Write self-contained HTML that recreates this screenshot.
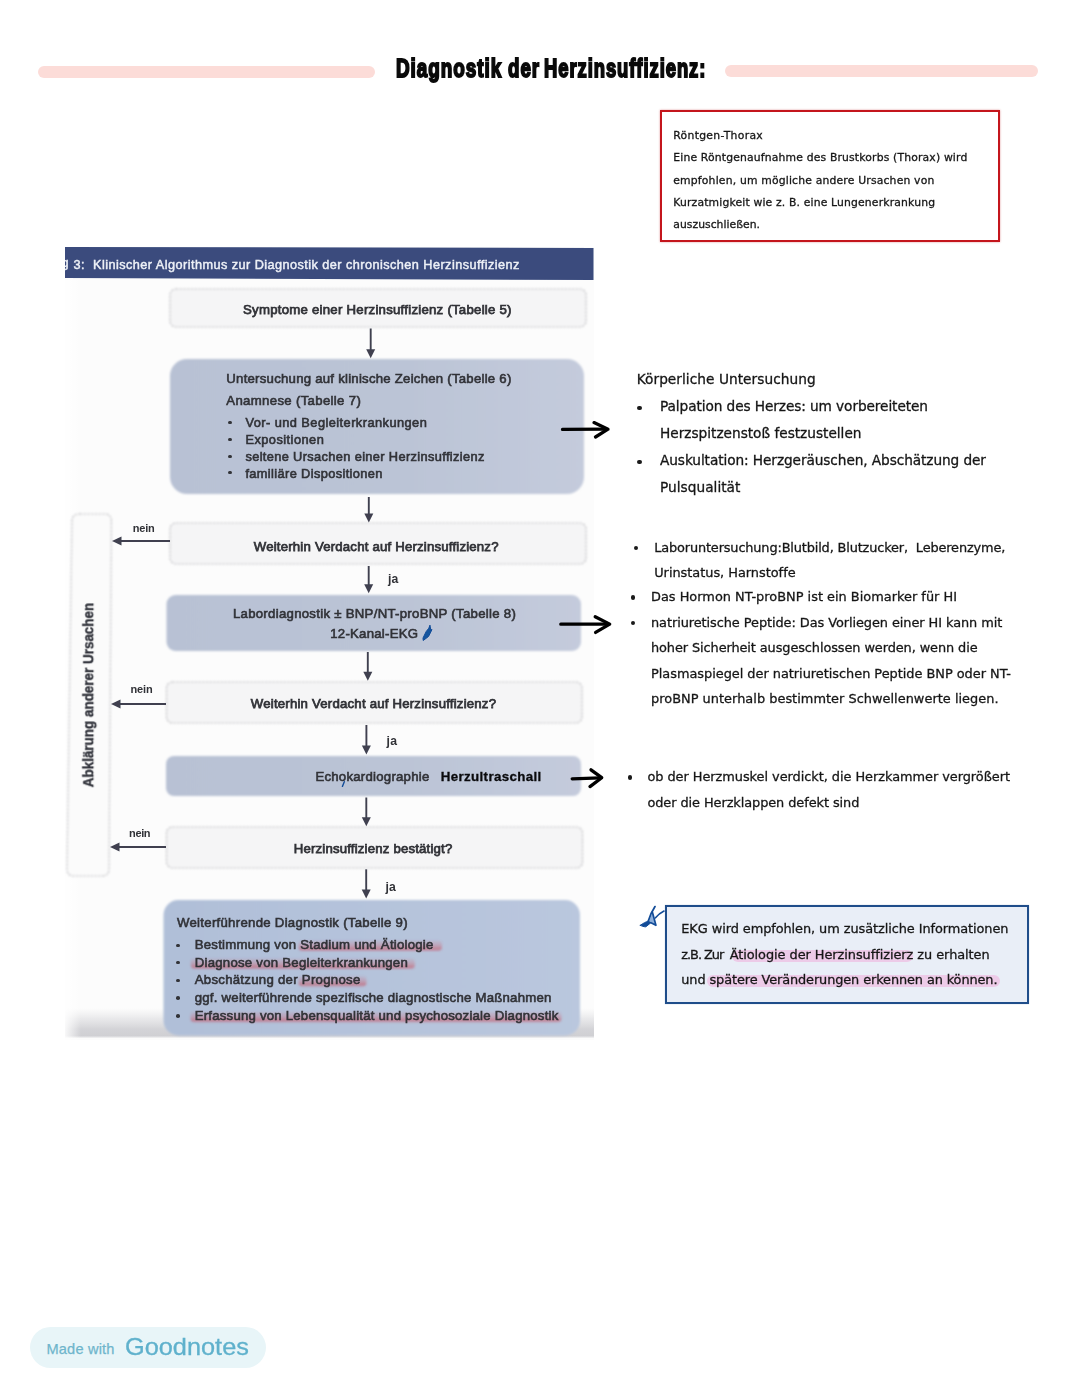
<!DOCTYPE html>
<html lang="de">
<head>
<meta charset="utf-8">
<title>Diagnostik der Herzinsuffizienz</title>
<style>
html,body{margin:0;padding:0;background:#fff;}
body{width:1080px;height:1397px;position:relative;overflow:hidden;font-family:"Liberation Sans",sans-serif;}
h1,figure,header,section{margin:0;padding:0;font:inherit;}
.t{position:absolute;white-space:pre;display:block;}
.abs{position:absolute;}
.bar{position:absolute;background:#fcdcd8;border-radius:6px;}
#redbox{position:absolute;left:660px;top:110px;width:336px;height:128px;border:2px solid #c4151c;background:#fff;box-shadow:0 0 2px rgba(190,30,40,.45);}
#bluebox{position:absolute;left:665px;top:904.7px;width:360.4px;height:95px;border:2px solid #1f4d8a;background:#e9eef7;box-shadow:0 0 1px rgba(30,80,150,.35);}
.hl{position:absolute;background:#edcbe8;border-radius:6px;filter:blur(.7px);}
.bul{position:absolute;width:4.6px;height:4.6px;border-radius:50%;background:#1a1a1a;}
.sb{width:3.4px;height:3.4px;background:#323338;filter:blur(.4px);}
#scan{position:absolute;left:0;top:0;}
#badge{position:absolute;left:29.5px;top:1326.6px;width:236.5px;height:41.8px;border-radius:21px;background:#e8f5f8;}
#vert{position:absolute;left:0;top:0;font:700 13px/13px "Liberation Sans",sans-serif;color:#33353d;white-space:nowrap;transform-origin:0 0;filter:blur(.4px);-webkit-text-stroke:.35px #33353d;}
</style>
</head>
<body>
<header>
<div class="bar" style="left:38.300px;top:66.100px;width:337.200px;height:11.500px"></div>
<h1 id="title"><span id="t0" class="t" style='left:395.6px;top:56.0px;font:700 25.5px/25.5px "Liberation Sans", sans-serif;color:#0a0a0a;-webkit-text-stroke:1.9px #0a0a0a;letter-spacing:1.3px;transform-origin:0 50%;transform:scaleX(0.7408);'>Diagnostik</span> <span id="t1" class="t" style='left:508.2px;top:56.0px;font:700 25.5px/25.5px "Liberation Sans", sans-serif;color:#0a0a0a;-webkit-text-stroke:1.9px #0a0a0a;letter-spacing:1.3px;transform-origin:0 50%;transform:scaleX(0.7341);'>der</span> <span id="t2" class="t" style='left:544.0px;top:56.0px;font:700 25.5px/25.5px "Liberation Sans", sans-serif;color:#0a0a0a;-webkit-text-stroke:1.9px #0a0a0a;letter-spacing:1.3px;transform-origin:0 50%;transform:scaleX(0.7223);'>Herzinsuffizienz:</span></h1>
<div class="bar" style="left:724.500px;top:64.800px;width:313.300px;height:11.900px"></div>
</header>

<aside id="redbox">
<span id="t3" class="t" style='left:11.3px;top:19.0px;font:400 10.8px/10.8px "DejaVu Sans", "Liberation Sans", sans-serif;color:#161616;letter-spacing:0.305px;filter:blur(.2px);-webkit-text-stroke:.3px #161616;'>Röntgen-Thorax</span>
<span id="t4" class="t" style='left:11.3px;top:41.0px;font:400 10.8px/10.8px "DejaVu Sans", "Liberation Sans", sans-serif;color:#161616;letter-spacing:0.164px;filter:blur(.2px);-webkit-text-stroke:.3px #161616;'>Eine Röntgenaufnahme des Brustkorbs (Thorax) wird</span>
<span id="t5" class="t" style='left:11.3px;top:64.0px;font:400 10.8px/10.8px "DejaVu Sans", "Liberation Sans", sans-serif;color:#161616;letter-spacing:0.181px;filter:blur(.2px);-webkit-text-stroke:.3px #161616;'>empfohlen, um mögliche andere Ursachen von</span>
<span id="t6" class="t" style='left:11.3px;top:86.0px;font:400 10.8px/10.8px "DejaVu Sans", "Liberation Sans", sans-serif;color:#161616;letter-spacing:0.159px;filter:blur(.2px);-webkit-text-stroke:.3px #161616;'>Kurzatmigkeit wie z. B. eine Lungenerkrankung</span>
<span id="t7" class="t" style='left:11.3px;top:108.0px;font:400 10.8px/10.8px "DejaVu Sans", "Liberation Sans", sans-serif;color:#161616;letter-spacing:0.024px;filter:blur(.2px);-webkit-text-stroke:.3px #161616;'>auszuschließen.</span>
</aside>

<figure id="flow">
<svg id="scan" width="1080" height="1397" viewBox="0 0 1080 1397">
  <defs>
    <filter id="soft" x="-5%" y="-5%" width="110%" height="110%"><feGaussianBlur stdDeviation="0.9"/></filter>
    <filter id="soft2" x="-5%" y="-5%" width="110%" height="110%"><feGaussianBlur stdDeviation="0.6"/></filter>
    <linearGradient id="botshade" x1="0" y1="0" x2="0" y2="1">
      <stop offset="0" stop-color="#e4e4e6" stop-opacity="0"/>
      <stop offset="0.35" stop-color="#dcdcdf" stop-opacity=".6"/>
      <stop offset="0.7" stop-color="#cfcfd3" stop-opacity=".9"/>
      <stop offset="0.93" stop-color="#cdcdd1" stop-opacity=".95"/>
      <stop offset="1" stop-color="#e8e8ea" stop-opacity=".5"/>
    </linearGradient>
    <linearGradient id="boxg" x1="0" y1="0" x2="1" y2="0">
      <stop offset="0" stop-color="#b8c1d4"/>
      <stop offset="0.55" stop-color="#bbc4d6"/>
      <stop offset="1" stop-color="#c4cbdc"/>
    </linearGradient>
    <linearGradient id="boxg2" x1="0" y1="0" x2="1" y2="0">
      <stop offset="0" stop-color="#b0bfd8"/>
      <stop offset="1" stop-color="#bac7de"/>
    </linearGradient>
    <linearGradient id="redhl" x1="0" y1="0" x2="0" y2="1">
      <stop offset="0" stop-color="#cf5565" stop-opacity=".08"/>
      <stop offset="0.5" stop-color="#cf5565" stop-opacity=".3"/>
      <stop offset="0.8" stop-color="#c94c5d" stop-opacity=".55"/>
      <stop offset="1" stop-color="#c94c5d" stop-opacity=".35"/>
    </linearGradient>
    <linearGradient id="leftfade" x1="0" y1="0" x2="1" y2="0">
      <stop offset="0" stop-color="#fff" stop-opacity="1"/>
      <stop offset="1" stop-color="#fff" stop-opacity="0"/>
    </linearGradient>
  </defs>
  <!-- scanned paper -->
  <rect x="65" y="247" width="529" height="793" fill="#fcfcfc"/>
  <rect x="65" y="1008" width="529" height="30" fill="url(#botshade)"/>
  <rect x="65" y="280" width="16" height="761" fill="url(#leftfade)" fill-opacity=".85"/>
  <!-- header band -->
  <g filter="url(#soft2)">
    <polygon points="65,247 593.5,248 593.5,280 65,278" fill="#3a4b7d"/>
  </g>
  <!-- boxes -->
  <g filter="url(#soft)">
    <g fill="#f5f5f6" stroke="#c0c0c4" stroke-width="1.2" stroke-dasharray="2.5 1.2">
      <rect x="170" y="289" width="416" height="38" rx="6"/>
      <rect x="170" y="523" width="416" height="41" rx="6"/>
      <rect x="166.5" y="682" width="415.5" height="41" rx="6"/>
      <rect x="166.5" y="827" width="416" height="41" rx="6"/>
      <path d="M80,514 H104 Q111.500,514 111.400,521 L109,869 Q109,876 102,876 H74 Q67,876 67,869 L72,521 Q72,514 80,514 Z" fill="#fbfbfb"/>
    </g>
    <g fill="url(#boxg)">
      <rect x="170" y="359" width="414" height="135" rx="17"/>
      <rect x="166.500" y="595" width="414.500" height="56" rx="9"/>
      <rect x="166" y="756" width="415" height="40" rx="8"/>
      <rect x="163.500" y="900" width="416.500" height="135.500" rx="15" fill="url(#boxg2)"/>
    </g>
  </g>
  <!-- flow arrows -->
  <g filter="url(#soft2)" stroke="#3f4150" stroke-width="1.9" fill="#3f4150">
    <path d="M370.700,328.500 V351" fill="none"/><path d="M366.200,349.300 L375.200,349.300 L370.700,358.300 Z" stroke="none"/>
    <path d="M368.800,497 V515" fill="none"/><path d="M364.300,513.500 L373.300,513.500 L368.800,522.500 Z" stroke="none"/>
    <path d="M368.700,566 V586" fill="none"/><path d="M364.200,584.300 L373.200,584.300 L368.700,593.300 Z" stroke="none"/>
    <path d="M367.800,652 V673.500" fill="none"/><path d="M363.300,671.800 L372.300,671.800 L367.800,680.800 Z" stroke="none"/>
    <path d="M366.400,725 V747" fill="none"/><path d="M361.900,745.500 L370.900,745.500 L366.400,754.500 Z" stroke="none"/>
    <path d="M366.300,797.500 V819" fill="none"/><path d="M361.800,817.300 L370.800,817.300 L366.300,826.300 Z" stroke="none"/>
    <path d="M366.200,869.300 V891" fill="none"/><path d="M361.700,889.600 L370.700,889.600 L366.200,898.600 Z" stroke="none"/>
    <path d="M170,541 H120" fill="none"/><path d="M121.500,536.500 L121.500,545.500 L112,541 Z" stroke="none"/>
    <path d="M166,704 H119" fill="none"/><path d="M120.500,699.500 L120.500,708.500 L111,704 Z" stroke="none"/>
    <path d="M166,847 H118" fill="none"/><path d="M119.500,842.500 L119.500,851.500 L110,847 Z" stroke="none"/>
  </g>
  <!-- red marker highlights in scan -->
  <g filter="url(#soft)" fill="url(#redhl)">
    <rect x="298.5" y="940.5" width="143.5" height="10.500" rx="4"/>
    <rect x="190.8" y="958.5" width="224" height="10.500" rx="4"/>
    <rect x="298.5" y="976" width="68" height="10.500" rx="4"/>
    <rect x="190.5" y="1011.8" width="371" height="10.500" rx="4"/>
  </g>
</svg>
<div class="abs" style="left:65px;top:255px;width:3.8px;height:20px;overflow:hidden;filter:blur(.4px)"><span class="abs" style="left:-3.4px;top:1.5px;font:400 12.7px/13px 'Liberation Sans',sans-serif;color:#eef1f7;-webkit-text-stroke:.45px #eef1f7">g</span></div>
<div id="vert" style="transform:translate(80.3px,787.3px) rotate(-90deg) scale(1.0339,1.18)">Abklärung anderer Ursachen</div>
<span id="t28" class="t" style='left:73.6px;top:259.0px;font:400 12.7px/12.7px "Liberation Sans", sans-serif;color:#eef1f7;letter-spacing:0.449px;filter:blur(.45px);-webkit-text-stroke:.45px #eef1f7;'>3:  Klinischer Algorithmus zur Diagnostik der chronischen Herzinsuffizienz</span>
<span id="t29" class="t" style='left:243.0px;top:303.0px;font:400 13.2px/13.2px "Liberation Sans", sans-serif;color:#313237;letter-spacing:0.256px;filter:blur(.45px);-webkit-text-stroke:.75px #313237;'>Symptome einer Herzinsuffizienz (Tabelle 5)</span>
<span id="t30" class="t" style='left:226.3px;top:372.0px;font:400 13.2px/13.2px "Liberation Sans", sans-serif;color:#313237;letter-spacing:0.241px;filter:blur(.45px);-webkit-text-stroke:.6px #313237;'>Untersuchung auf klinische Zeichen (Tabelle 6)</span>
<span id="t31" class="t" style='left:226.3px;top:394.0px;font:400 13.2px/13.2px "Liberation Sans", sans-serif;color:#313237;letter-spacing:0.327px;filter:blur(.45px);-webkit-text-stroke:.6px #313237;'>Anamnese (Tabelle 7)</span>
<span id="t32" class="t" style='left:245.4px;top:417.0px;font:400 12.8px/12.8px "Liberation Sans", sans-serif;color:#313237;letter-spacing:0.447px;filter:blur(.45px);-webkit-text-stroke:.6px #313237;'>Vor- und Begleiterkrankungen</span>
<span id="t33" class="t" style='left:245.4px;top:434.0px;font:400 12.8px/12.8px "Liberation Sans", sans-serif;color:#313237;letter-spacing:0.465px;filter:blur(.45px);-webkit-text-stroke:.6px #313237;'>Expositionen</span>
<span id="t34" class="t" style='left:245.4px;top:451.0px;font:400 12.8px/12.8px "Liberation Sans", sans-serif;color:#313237;letter-spacing:0.362px;filter:blur(.45px);-webkit-text-stroke:.6px #313237;'>seltene Ursachen einer Herzinsuffizienz</span>
<span id="t35" class="t" style='left:245.4px;top:468.0px;font:400 12.8px/12.8px "Liberation Sans", sans-serif;color:#313237;letter-spacing:0.375px;filter:blur(.45px);-webkit-text-stroke:.6px #313237;'>familiäre Dispositionen</span>
<span id="t36" class="t" style='left:253.8px;top:540.0px;font:400 13.2px/13.2px "Liberation Sans", sans-serif;color:#313237;letter-spacing:0.197px;filter:blur(.45px);-webkit-text-stroke:.75px #313237;'>Weiterhin Verdacht auf Herzinsuffizienz?</span>
<span id="t37" class="t" style='left:132.8px;top:523.0px;font:700 11px/11px "Liberation Sans", sans-serif;color:#313237;letter-spacing:-0.242px;filter:blur(.45px);'>nein</span>
<span id="t38" class="t" style='left:388.0px;top:573.0px;font:700 12.2px/12.2px "Liberation Sans", sans-serif;color:#313237;letter-spacing:0.228px;filter:blur(.45px);'>ja</span>
<span id="t39" class="t" style='left:232.9px;top:607.0px;font:400 13.2px/13.2px "Liberation Sans", sans-serif;color:#313237;letter-spacing:0.286px;filter:blur(.45px);-webkit-text-stroke:.6px #313237;'>Labordiagnostik ± BNP/NT-proBNP (Tabelle 8)</span>
<span id="t40" class="t" style='left:330.3px;top:627.0px;font:400 13.2px/13.2px "Liberation Sans", sans-serif;color:#313237;letter-spacing:0.243px;filter:blur(.45px);-webkit-text-stroke:.6px #313237;'>12-Kanal-EKG</span>
<span id="t41" class="t" style='left:250.8px;top:697.0px;font:400 13.2px/13.2px "Liberation Sans", sans-serif;color:#313237;letter-spacing:0.210px;filter:blur(.45px);-webkit-text-stroke:.75px #313237;'>Weiterhin Verdacht auf Herzinsuffizienz?</span>
<span id="t42" class="t" style='left:130.5px;top:684.0px;font:700 11px/11px "Liberation Sans", sans-serif;color:#313237;letter-spacing:-0.108px;filter:blur(.45px);'>nein</span>
<span id="t43" class="t" style='left:386.4px;top:735.0px;font:700 12.2px/12.2px "Liberation Sans", sans-serif;color:#313237;letter-spacing:0.428px;filter:blur(.45px);'>ja</span>
<span id="t44" class="t" style='left:315.4px;top:770.0px;font:400 13.2px/13.2px "Liberation Sans", sans-serif;color:#313237;letter-spacing:0.245px;filter:blur(.45px);-webkit-text-stroke:.6px #313237;'>Echokardiographie</span>
<span id="t45" class="t" style='left:440.7px;top:770.0px;font:700 13.3px/13.3px "Liberation Sans", sans-serif;color:#0a0a0c;letter-spacing:0.375px;filter:blur(.25px);-webkit-text-stroke:.3px #0a0a0c;'>Herzultraschall</span>
<span id="t46" class="t" style='left:129.0px;top:828.0px;font:700 11px/11px "Liberation Sans", sans-serif;color:#313237;letter-spacing:-0.342px;filter:blur(.45px);'>nein</span>
<span id="t47" class="t" style='left:293.7px;top:842.0px;font:400 13.2px/13.2px "Liberation Sans", sans-serif;color:#313237;letter-spacing:0.188px;filter:blur(.45px);-webkit-text-stroke:.75px #313237;'>Herzinsuffizienz bestätigt?</span>
<span id="t48" class="t" style='left:385.6px;top:881.0px;font:700 12.2px/12.2px "Liberation Sans", sans-serif;color:#313237;letter-spacing:0.128px;filter:blur(.45px);'>ja</span>
<span id="t49" class="t" style='left:177.0px;top:916.0px;font:400 13.2px/13.2px "Liberation Sans", sans-serif;color:#313237;letter-spacing:0.283px;filter:blur(.45px);-webkit-text-stroke:.6px #313237;'>Weiterführende Diagnostik (Tabelle 9)</span>
<span id="t50" class="t" style='left:194.7px;top:938.0px;font:400 13.2px/13.2px "Liberation Sans", sans-serif;color:#313237;letter-spacing:0.243px;filter:blur(.45px);-webkit-text-stroke:.6px #313237;'>Bestimmung von Stadium und Ätiologie</span>
<span id="t51" class="t" style='left:194.7px;top:956.0px;font:400 13.2px/13.2px "Liberation Sans", sans-serif;color:#313237;letter-spacing:0.252px;filter:blur(.45px);-webkit-text-stroke:.6px #313237;'>Diagnose von Begleiterkrankungen</span>
<span id="t52" class="t" style='left:194.7px;top:973.0px;font:400 13.2px/13.2px "Liberation Sans", sans-serif;color:#313237;letter-spacing:0.283px;filter:blur(.45px);-webkit-text-stroke:.6px #313237;'>Abschätzung der Prognose</span>
<span id="t53" class="t" style='left:194.7px;top:991.0px;font:400 13.2px/13.2px "Liberation Sans", sans-serif;color:#313237;letter-spacing:0.239px;filter:blur(.45px);-webkit-text-stroke:.6px #313237;'>ggf. weiterführende spezifische diagnostische Maßnahmen</span>
<span id="t54" class="t" style='left:194.7px;top:1009.0px;font:400 13.2px/13.2px "Liberation Sans", sans-serif;color:#313237;letter-spacing:0.222px;filter:blur(.45px);-webkit-text-stroke:.6px #313237;'>Erfassung von Lebensqualität und psychosoziale Diagnostik</span>
<div class="bul sb" style="left:228.3px;top:420.9px"></div>
<div class="bul sb" style="left:228.3px;top:438.1px"></div>
<div class="bul sb" style="left:228.3px;top:454.8px"></div>
<div class="bul sb" style="left:228.3px;top:471.1px"></div>
<div class="bul sb" style="left:176.1px;top:943.5px;width:3.6px;height:3.6px"></div>
<div class="bul sb" style="left:176.1px;top:960.8px;width:3.6px;height:3.6px"></div>
<div class="bul sb" style="left:176.1px;top:978.6px;width:3.6px;height:3.6px"></div>
<div class="bul sb" style="left:176.1px;top:996.4px;width:3.6px;height:3.6px"></div>
<div class="bul sb" style="left:176.1px;top:1014.4px;width:3.6px;height:3.6px"></div>
<!-- hand-drawn black arrows -->
<svg class="abs" style="left:0;top:0" width="1080" height="1397" viewBox="0 0 1080 1397">
  <g fill="none" stroke="#000" stroke-width="3.3" stroke-linecap="round" stroke-linejoin="round">
    <path d="M562.500,429.400 L606,429.200"/><path d="M594,422.600 L608,429.200 L595.500,437"/>
    <path d="M560.800,624.200 L608,624.100"/><path d="M595.200,616.700 L609.700,624.100 L595.600,632.400"/>
    <path d="M572.200,778.800 L600,777.800"/><path d="M591,769.800 L601.700,777.700 L590,786.600"/>
  </g>
  <!-- blue pen marks -->
  <g fill="none" stroke="#124c98" stroke-width="1.7" stroke-linecap="round" stroke-linejoin="round">
    <path d="M430,625.500 L430.800,630 L432,629.500 L428.500,636.500 L423.200,640.500 L423,638 L426.200,631.500 L428.600,628.500 Z" fill="#14559f" stroke-width="1"/>
    <path d="M344.300,781.700 L342.400,786.400" stroke-width="1.4"/>
    <path d="M652.300,913 L649,921 L655.300,924.600 Z" fill="#2f6fc0" fill-opacity=".55" stroke="none"/>
    <path d="M640.300,925.300 C643,923.300 646,921.800 648.400,921 L650.800,922.800 L645.800,926.800 C643.800,926.800 642,926.200 640.300,925.300 Z" fill="#124c98" stroke-width="1"/>
    <path d="M655,906.600 Q650.800,913 648.300,921" stroke-width="1.8"/>
    <path d="M652.400,912.200 L655.900,925.300 L650.500,922.600" stroke-width="1.7"/>
    <path d="M655.500,917.800 Q659,913.500 664,911" stroke-width="1.6"/>
  </g>
</svg>
</figure>

<section class="note" id="n1">
<div class="bul" style="left:637.400px;top:405.700px"></div>
<div class="bul" style="left:637.400px;top:459.700px"></div>
<span id="t8" class="t" style='left:636.7px;top:373.0px;font:400 13.7px/13.7px "DejaVu Sans", "Liberation Sans", sans-serif;color:#161616;letter-spacing:0.049px;filter:blur(.2px);-webkit-text-stroke:.3px #161616;'>Körperliche Untersuchung</span>
<span id="t9" class="t" style='left:660.0px;top:400.0px;font:400 13.7px/13.7px "DejaVu Sans", "Liberation Sans", sans-serif;color:#161616;letter-spacing:-0.094px;filter:blur(.2px);-webkit-text-stroke:.3px #161616;'>Palpation des Herzes: um vorbereiteten</span>
<span id="t10" class="t" style='left:660.0px;top:427.0px;font:400 13.7px/13.7px "DejaVu Sans", "Liberation Sans", sans-serif;color:#161616;letter-spacing:-0.013px;filter:blur(.2px);-webkit-text-stroke:.3px #161616;'>Herzspitzenstoß festzustellen</span>
<span id="t11" class="t" style='left:660.0px;top:454.0px;font:400 13.7px/13.7px "DejaVu Sans", "Liberation Sans", sans-serif;color:#161616;letter-spacing:-0.091px;filter:blur(.2px);-webkit-text-stroke:.3px #161616;'>Auskultation: Herzgeräuschen, Abschätzung der</span>
<span id="t12" class="t" style='left:660.0px;top:481.0px;font:400 13.7px/13.7px "DejaVu Sans", "Liberation Sans", sans-serif;color:#161616;letter-spacing:0.026px;filter:blur(.2px);-webkit-text-stroke:.3px #161616;'>Pulsqualität</span>
</section>

<section class="note" id="n2">
<div class="bul" style="left:633.700px;top:545.900px;width:4.200px;height:4.200px"></div>
<div class="bul" style="left:630.700px;top:595.400px;width:4.200px;height:4.200px"></div>
<div class="bul" style="left:630.700px;top:620.900px;width:4.200px;height:4.200px"></div>
<span id="t13" class="t" style='left:654.2px;top:542.0px;font:400 12.9px/12.9px "DejaVu Sans", "Liberation Sans", sans-serif;color:#161616;letter-spacing:-0.147px;filter:blur(.2px);-webkit-text-stroke:.3px #161616;'>Laboruntersuchung:Blutbild, Blutzucker,  Leberenzyme,</span>
<span id="t14" class="t" style='left:654.2px;top:567.0px;font:400 12.9px/12.9px "DejaVu Sans", "Liberation Sans", sans-serif;color:#161616;letter-spacing:-0.019px;filter:blur(.2px);-webkit-text-stroke:.3px #161616;'>Urinstatus, Harnstoffe</span>
<span id="t15" class="t" style='left:651.0px;top:591.0px;font:400 12.9px/12.9px "DejaVu Sans", "Liberation Sans", sans-serif;color:#161616;letter-spacing:0.007px;filter:blur(.2px);-webkit-text-stroke:.3px #161616;'>Das Hormon NT-proBNP ist ein Biomarker für HI</span>
<span id="t16" class="t" style='left:651.0px;top:617.0px;font:400 12.9px/12.9px "DejaVu Sans", "Liberation Sans", sans-serif;color:#161616;letter-spacing:-0.066px;filter:blur(.2px);-webkit-text-stroke:.3px #161616;'>natriuretische Peptide: Das Vorliegen einer HI kann mit</span>
<span id="t17" class="t" style='left:651.0px;top:642.0px;font:400 12.9px/12.9px "DejaVu Sans", "Liberation Sans", sans-serif;color:#161616;letter-spacing:-0.094px;filter:blur(.2px);-webkit-text-stroke:.3px #161616;'>hoher Sicherheit ausgeschlossen werden, wenn die</span>
<span id="t18" class="t" style='left:651.0px;top:668.0px;font:400 12.9px/12.9px "DejaVu Sans", "Liberation Sans", sans-serif;color:#161616;letter-spacing:-0.021px;filter:blur(.2px);-webkit-text-stroke:.3px #161616;'>Plasmaspiegel der natriuretischen Peptide BNP oder NT-</span>
<span id="t19" class="t" style='left:651.0px;top:693.0px;font:400 12.9px/12.9px "DejaVu Sans", "Liberation Sans", sans-serif;color:#161616;letter-spacing:0.026px;filter:blur(.2px);-webkit-text-stroke:.3px #161616;'>proBNP unterhalb bestimmter Schwellenwerte liegen.</span>
</section>

<section class="note" id="n3">
<div class="bul" style="left:627.600px;top:775.400px;width:4.200px;height:4.200px"></div>
<span id="t20" class="t" style='left:647.4px;top:771.0px;font:400 12.9px/12.9px "DejaVu Sans", "Liberation Sans", sans-serif;color:#161616;letter-spacing:-0.043px;filter:blur(.2px);-webkit-text-stroke:.3px #161616;'>ob der Herzmuskel verdickt, die Herzkammer vergrößert</span>
<span id="t21" class="t" style='left:647.4px;top:797.0px;font:400 12.9px/12.9px "DejaVu Sans", "Liberation Sans", sans-serif;color:#161616;letter-spacing:-0.073px;filter:blur(.2px);-webkit-text-stroke:.3px #161616;'>oder die Herzklappen defekt sind</span>
</section>

<aside id="bluebox">
<div class="hl" style="left:64.5px;top:43.3px;width:181.500px;height:12px"></div>
<div class="hl" style="left:40.0px;top:68.8px;width:293px;height:12px"></div>
<span id="t22" class="t" style='left:14.3px;top:16.3px;font:400 12.9px/12.9px "DejaVu Sans", "Liberation Sans", sans-serif;color:#161616;letter-spacing:-0.074px;filter:blur(.2px);-webkit-text-stroke:.3px #161616;'>EKG wird empfohlen, um zusätzliche Informationen</span>
<span id="t23" class="t" style='left:14.3px;top:42.3px;font:400 12.9px/12.9px "DejaVu Sans", "Liberation Sans", sans-serif;color:#161616;letter-spacing:-1.043px;filter:blur(.2px);-webkit-text-stroke:.3px #161616;'>z.B. Zur</span>
<span id="t24" class="t" style='left:62.7px;top:42.3px;font:400 12.9px/12.9px "DejaVu Sans", "Liberation Sans", sans-serif;color:#161616;letter-spacing:-0.053px;filter:blur(.2px);-webkit-text-stroke:.3px #161616;'>Ätiologie der Herzinsuffizierz zu erhalten</span>
<span id="t25" class="t" style='left:14.3px;top:67.3px;font:400 12.9px/12.9px "DejaVu Sans", "Liberation Sans", sans-serif;color:#161616;letter-spacing:-0.109px;filter:blur(.2px);-webkit-text-stroke:.3px #161616;'>und spätere Veränderungen erkennen an können.</span>
</aside>

<footer id="badge"><span id="t26" class="t" style='left:17.0px;top:15.4px;font:400 14.6px/14.6px "Liberation Sans", sans-serif;color:#6fb5cc;letter-spacing:0.173px;-webkit-text-stroke:.25px #6fb5cc;'>Made with</span> <span id="t27" class="t" style='left:95.5px;top:9.4px;font:400 23.6px/23.6px "Liberation Sans", sans-serif;color:#5fb1cc;transform-origin:0 50%;-webkit-text-stroke:.3px #5fb1cc;transform:scaleX(1.0733);'>Goodnotes</span></footer>
</body>
</html>
